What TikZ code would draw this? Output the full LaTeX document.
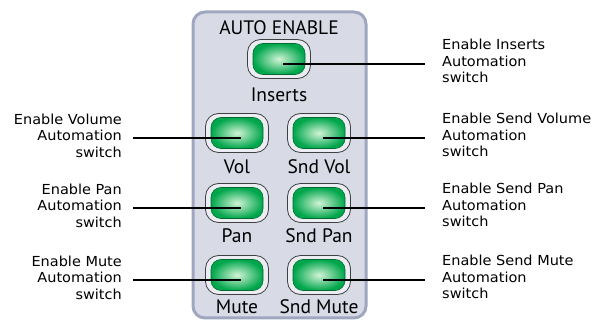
\documentclass[tikz,border=0pt]{standalone}
\usepackage{fontspec}
\newfontfamily\calloutfont[FakeStretch=1.05]{DejaVu Sans}
\newfontfamily\panelfont{PT Sans}
\definecolor{panelfill}{RGB}{216,219,230}
\definecolor{panelrim}{RGB}{158,166,192}
\definecolor{ledgreen}{RGB}{0,166,76}
\definecolor{ledglow}{RGB}{210,244,214}
\begin{document}
\begin{tikzpicture}[x=1pt,y=-1pt,line join=round,line cap=round,
	ring/.style={draw=black!75,line width=0.8pt,fill=panelfill!50!white,rounded corners=13pt,minimum width=63pt,minimum height=39pt,inner sep=0pt},
	glow/.style={draw=ledgreen!65!black,line width=0.6pt,rounded corners=10pt,inner color=ledglow,outer color=ledgreen},
	swlabel/.style={font=\panelfont\fontsize{19.5}{21}\selectfont,anchor=base,inner sep=0pt},
	callL/.style={font=\calloutfont\fontsize{13.8}{16.5}\selectfont,align=right,anchor=east,inner xsep=11pt,inner ysep=0pt},
	callR/.style={font=\calloutfont\fontsize{13.8}{16.5}\selectfont,align=left,anchor=west,inner xsep=17pt,inner ysep=0pt},
	wire/.style={line width=1.6pt,line cap=butt}]
	\useasboundingbox (0,0) rectangle (597,320);
	\draw[draw=panelrim,line width=3pt,fill=panelfill,rounded corners=12pt] (193,12) rectangle (366,318);
	\node[swlabel] (title) at (279,35) {AUTO ENABLE};
	\foreach \nm/\x/\y/\lbl/\dy in {ins/279/59/Inserts/43,vol/237/133/Vol/41,svol/319/133/Snd Vol/41,pan/237/203/Pan/40,span/319/203/Snd Pan/40,mute/237/275/Mute/39,smute/319/275/Snd Mute/39}{
		\node[ring] (\nm) at (\x,\y) {};
		\path[glow] ([shift={(-26,-15.5)}]\nm.center) rectangle ++(52,31);
		\node[swlabel] (\nm-lbl) at (\x,\y+\dy) {\lbl};
		\coordinate (\nm-pt) at (\x+4,\y+5);
	}
	\node[callL] (vol-txt) at (133,135.5) {Enable Volume\\Automation\\switch};
	\node[callL] (pan-txt) at (133,205.5) {Enable Pan\\Automation\\switch};
	\node[callL] (mute-txt) at (133,277.5) {Enable Mute\\Automation\\switch};
	\node[callR] (ins-txt) at (425,61) {Enable Inserts\\Automation\\switch};
	\node[callR] (svol-txt) at (425,135) {Enable Send Volume\\Automation\\switch};
	\node[callR] (span-txt) at (425,205) {Enable Send Pan\\Automation\\switch};
	\node[callR] (smute-txt) at (425,277) {Enable Send Mute\\Automation\\switch};
	\foreach \nm in {vol,pan,mute}
		\draw[wire] (\nm-txt.east |- \nm-pt) -- (\nm-pt);
	\foreach \nm in {ins,svol,span,smute}
		\draw[wire] (\nm-pt) -- (\nm-txt.west |- \nm-pt);
\end{tikzpicture}
\end{document}
